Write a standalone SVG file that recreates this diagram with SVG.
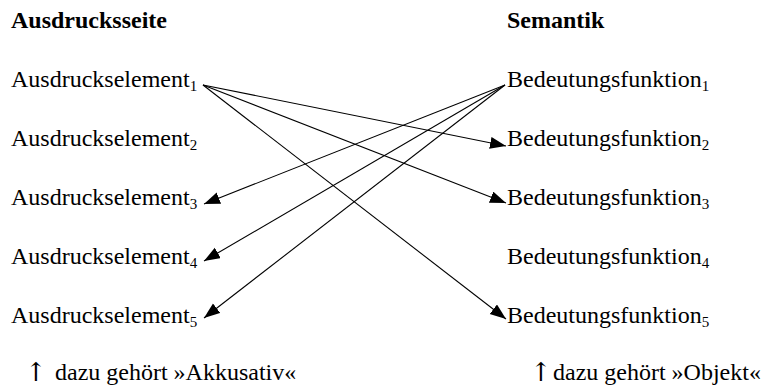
<svg xmlns="http://www.w3.org/2000/svg" width="773" height="388" viewBox="0 0 773 388">
<style>
text{font-family:"Liberation Serif","Times New Roman",serif;font-size:24px;fill:#000}
.h{font-weight:bold}
.s{font-size:15px}
.up{font-family:"DejaVu Serif","Liberation Serif",serif;font-size:26px}
.c line{stroke:#000;stroke-width:1.1;fill:none;marker-end:url(#ah)}
</style>
<defs>
<marker id="ah" markerUnits="userSpaceOnUse" markerWidth="17" markerHeight="13" refX="16" refY="6" orient="auto">
<path d="M0,0 L16,6 L0,12 z" fill="#000"/>
</marker>
</defs>
<rect width="773" height="388" fill="#fff"/>
<g id="heading-left"><text class="h" x="11" y="28">Ausdrucksseite</text></g>
<g id="heading-right"><text class="h" x="507" y="28">Semantik</text></g>
<g id="a1"><text x="11" y="87">Ausdruckselement<tspan class="s" dy="4">1</tspan></text></g>
<g id="a2"><text x="11" y="146">Ausdruckselement<tspan class="s" dy="4">2</tspan></text></g>
<g id="a3"><text x="11" y="205">Ausdruckselement<tspan class="s" dy="4">3</tspan></text></g>
<g id="a4"><text x="11" y="264">Ausdruckselement<tspan class="s" dy="4">4</tspan></text></g>
<g id="a5"><text x="11" y="323">Ausdruckselement<tspan class="s" dy="4">5</tspan></text></g>
<g id="b1"><text x="507" y="87">Bedeutungsfunktion<tspan class="s" dy="4">1</tspan></text></g>
<g id="b2"><text x="507" y="146">Bedeutungsfunktion<tspan class="s" dy="4">2</tspan></text></g>
<g id="b3"><text x="507" y="205">Bedeutungsfunktion<tspan class="s" dy="4">3</tspan></text></g>
<g id="b4"><text x="507" y="264">Bedeutungsfunktion<tspan class="s" dy="4">4</tspan></text></g>
<g id="b5"><text x="507" y="323">Bedeutungsfunktion<tspan class="s" dy="4">5</tspan></text></g>
<g id="note-left"><text class="up" x="25" y="381">↑</text><text x="55" y="380">dazu gehört »Akkusativ«</text></g>
<g id="note-right"><text class="up" x="530" y="381">↑</text><text x="553" y="380">dazu gehört »Objekt«</text></g>
<g class="c" id="connectors">
<line x1="203" y1="85" x2="506" y2="146"/>
<line x1="203" y1="85" x2="506" y2="203"/>
<line x1="203" y1="85" x2="506" y2="319"/>
<line x1="505" y1="85" x2="204" y2="204"/>
<line x1="505" y1="85" x2="204" y2="261"/>
<line x1="505" y1="85" x2="204" y2="318"/>
</g>
</svg>
